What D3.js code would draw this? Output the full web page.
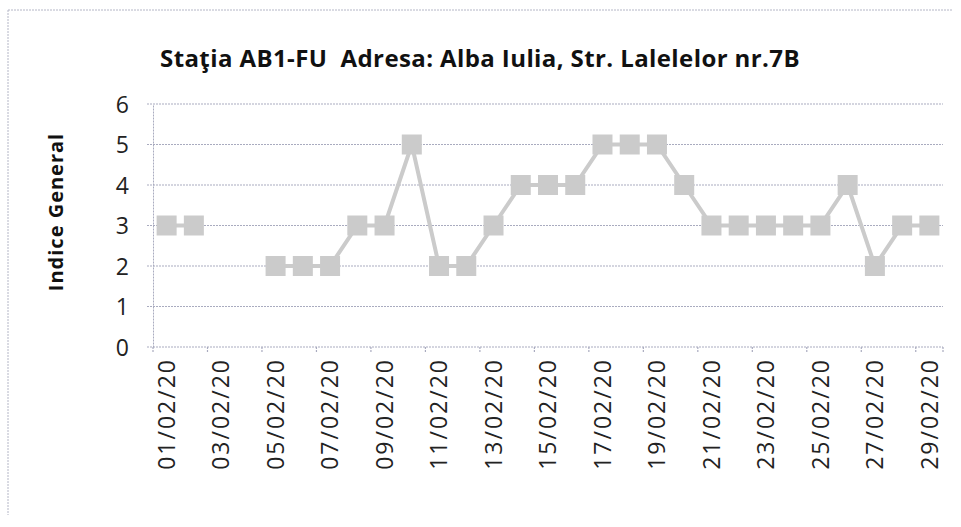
<!DOCTYPE html>
<html>
<head>
<meta charset="utf-8">
<script src="https://cdn.jsdelivr.net/npm/d3@7"></script>
<style>
  body { margin: 0; background: #fff; }
  text { font-family: "Open Sans", Lato, sans-serif; white-space: pre; }
</style>
</head>
<body>
<div id="chart"></div>
<script>
// days of February 2020 and the "Indice General" reading (null = no data)
var days = ["01/02/20","02/02/20","03/02/20","04/02/20","05/02/20","06/02/20","07/02/20","08/02/20",
  "09/02/20","10/02/20","11/02/20","12/02/20","13/02/20","14/02/20","15/02/20","16/02/20","17/02/20",
  "18/02/20","19/02/20","20/02/20","21/02/20","22/02/20","23/02/20","24/02/20","25/02/20","26/02/20",
  "27/02/20","28/02/20","29/02/20"];
var indice = [3,3,null,null,2,2,2,3,3,5,2,2,3,4,4,4,5,5,5,4,3,3,3,3,3,4,2,3,3];
var yTicks = [0,1,2,3,4,5,6];
var title = "Staţia AB1-FU  Adresa: Alba Iulia, Str. Lalelelor nr.7B";
var yTitle = "Indice General";

(function () {
  var W = 961, H = 527;
  var pLeft = 153, pRight = 943, pTop = 104, pBottom = 347;
  var gridCol = "#a9abbf", markCol = "#cbcbcb";

  var svg = d3.select("#chart").append("svg").attr("width", W).attr("height", H);

  // chart frame (only top and left edges survive in the scan)
  svg.append("line").attr("x1", 8).attr("x2", 952).attr("y1", 10).attr("y2", 10)
    .attr("stroke", "#b4b6c6").attr("stroke-width", 1).attr("stroke-dasharray", "2,1");
  svg.append("line").attr("x1", 8).attr("x2", 8).attr("y1", 10).attr("y2", 515)
    .attr("stroke", "#b4b6c6").attr("stroke-width", 1).attr("stroke-dasharray", "2,1");

  var x = d3.scaleBand().domain(days).range([pLeft, pRight]);
  var y = d3.scaleLinear().domain([0, 6]).range([pBottom, pTop]);

  // horizontal gridlines
  svg.selectAll(".grid").data(yTicks).enter().append("line")
    .attr("x1", pLeft - 6).attr("x2", pRight)
    .attr("y1", d => y(d)).attr("y2", d => y(d))
    .attr("stroke", gridCol).attr("stroke-width", 1.2).attr("stroke-dasharray", "2,1");

  // y axis
  var yAxis = svg.append("g").attr("transform", "translate(" + pLeft + ",0)")
    .call(d3.axisLeft(y).tickValues(yTicks).tickFormat(d3.format("d")).tickSize(0).tickPadding(24));
  yAxis.select(".domain").attr("stroke", gridCol).attr("stroke-dasharray", "2,1");
  yAxis.selectAll("text").attr("font-size", 23).attr("fill", "#222")
    .style("font-family", "'Open Sans', Lato, sans-serif").attr("dy", "0.36em");

  // x axis: ticks at the start of every odd day, labels centred on odd days
  var odd = days.filter((d, i) => i % 2 === 0);
  var xAxis = svg.append("g").attr("transform", "translate(0," + pBottom + ")");
  xAxis.selectAll(".tk").data(odd.map(d => x(d)).concat([pRight])).enter().append("line")
    .attr("x1", d => d).attr("x2", d => d)
    .attr("y1", 0).attr("y2", 6).attr("stroke", gridCol).attr("stroke-width", 1.2)
    .attr("stroke-dasharray", "2,1");
  xAxis.selectAll(".lbl").data(odd).enter().append("text")
    .attr("transform", d => "translate(" + (x(d) + x.bandwidth() / 2) + ",11) rotate(-90)")
    .attr("text-anchor", "end").attr("dy", "0.36em")
    .attr("font-size", 23).attr("letter-spacing", 2).attr("fill", "#222")
    .text(d => d);

  // series line with gaps for missing days
  var pts = days.map((d, i) => ({ day: d, v: indice[i] }));
  var line = d3.line()
    .defined(d => d.v !== null)
    .x(d => x(d.day) + x.bandwidth() / 2)
    .y(d => y(d.v));
  svg.append("path").datum(pts).attr("d", line)
    .attr("fill", "none").attr("stroke", markCol).attr("stroke-width", 4);

  // square markers
  var ms = 20;
  svg.selectAll(".mk").data(pts.filter(d => d.v !== null)).enter().append("rect")
    .attr("x", d => x(d.day) + x.bandwidth() / 2 - ms / 2)
    .attr("y", d => y(d.v) - ms / 2)
    .attr("width", ms).attr("height", ms)
    .attr("fill", markCol);

  // titles
  svg.append("text").attr("x", 480).attr("y", 67).attr("text-anchor", "middle")
    .attr("font-size", 24).attr("letter-spacing", 0.4).attr("font-weight", "bold").attr("fill", "#111")
    .text(title);
  svg.append("text").attr("transform", "translate(63,212) rotate(-90)")
    .attr("text-anchor", "middle").attr("font-size", 20).attr("letter-spacing", 1)
    .attr("font-weight", "bold").attr("fill", "#111")
    .text(yTitle);
})();
</script>
</body>
</html>
